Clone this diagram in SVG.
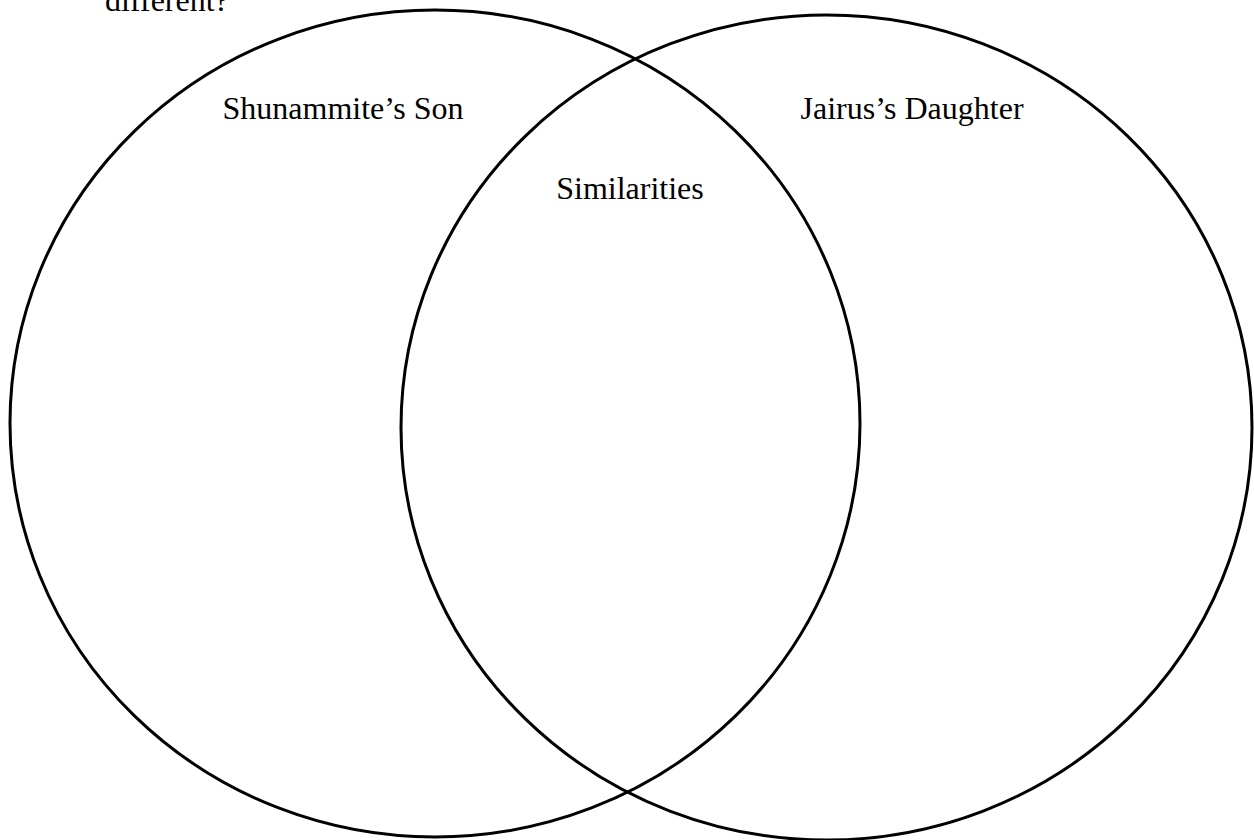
<svg xmlns="http://www.w3.org/2000/svg" width="1254" height="840" viewBox="0 0 1254 840">
<style>
.c{fill:none;stroke:#000;stroke-width:3}
text{font-family:"Liberation Serif","Times New Roman",serif;font-size:32px;fill:#000}
</style>
<rect width="1254" height="840" fill="#fff"/>
<text x="105" y="11">different?</text>
<g id="left"><ellipse class="c" cx="435" cy="423.5" rx="425" ry="413.5"/><text x="343" y="119" text-anchor="middle">Shunammite’s Son</text></g>
<g id="right"><ellipse class="c" cx="826.5" cy="427.5" rx="425.5" ry="412.5"/><text x="912" y="119" text-anchor="middle">Jairus’s Daughter</text></g>
<g id="middle"><text x="630" y="199" text-anchor="middle">Similarities</text></g>
<g id="connectors"/>
</svg>
